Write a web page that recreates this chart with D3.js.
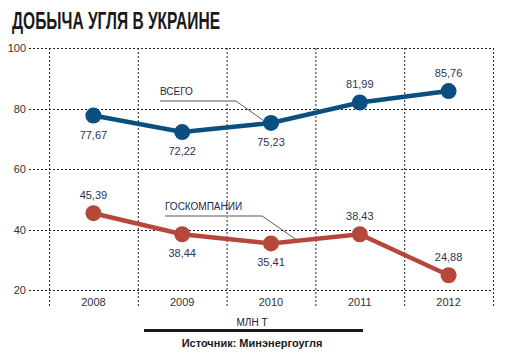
<!DOCTYPE html>
<html>
<head>
<meta charset="utf-8">
<script src="https://cdn.jsdelivr.net/npm/d3@7"></script>
<style>
  body { margin: 0; background: #fff; }
  text { font-family: "Liberation Sans Narrow", "Liberation Sans", sans-serif; }
</style>
</head>
<body>
<div id="chart"></div>
<script>
const years = ['2008', '2009', '2010', '2011', '2012'];
const total = [77.67, 72.22, 75.23, 81.99, 85.76];
const stateCo = [45.39, 38.44, 35.41, 38.43, 24.88];
const yTicks = [20, 40, 60, 80, 100];
// label above (-1) or below (1) the dot
const totalPos = [1, 1, 1, -1, -1];
const statePos = [-1, 1, 1, -1, -1];

const width = 506, height = 361;
const fmt = v => d3.format('.2f')(v).replace('.', ',');

const svg = d3.select('#chart').append('svg')
  .attr('width', width)
  .attr('height', height);

const x = d3.scaleBand().domain(years).range([49, 493]);
const y = d3.scaleLinear().domain([20, 100]).range([290, 48]);

svg.append('text')
  .attr('x', 12).attr('y', 29)
  .attr('font-size', 24).attr('font-weight', 'bold')
  .attr('fill', '#1a1a1a')
  .attr('textLength', 208).attr('lengthAdjust', 'spacingAndGlyphs')
  .text('ДОБЫЧА УГЛЯ В УКРАИНЕ');

const grid = svg.append('g')
  .attr('stroke', '#222')
  .attr('stroke-width', 1)
  .attr('stroke-dasharray', '2,2');

grid.selectAll('.h').data(yTicks).enter().append('line')
  .attr('x1', 29).attr('x2', 493)
  .attr('y1', d => Math.round(y(d)) + 0.5).attr('y2', d => Math.round(y(d)) + 0.5);

grid.selectAll('.v').data(years.concat(['end'])).enter().append('line')
  .attr('x1', (d, i) => (i < years.length ? x(d) : x.range()[1]) + 0.5)
  .attr('x2', (d, i) => (i < years.length ? x(d) : x.range()[1]) + 0.5)
  .attr('y1', y(100)).attr('y2', 308);

svg.selectAll('.ytick').data(yTicks).enter().append('text')
  .attr('x', 26).attr('y', d => y(d) + 4)
  .attr('text-anchor', 'end')
  .attr('font-size', 11).attr('fill', '#333')
  .text(d => d);

svg.selectAll('.xtick').data(years).enter().append('text')
  .attr('x', d => x(d) + x.bandwidth() / 2).attr('y', 306)
  .attr('text-anchor', 'middle')
  .attr('font-size', 11).attr('fill', '#333')
  .text(d => d);

const cx = d => x(d) + x.bandwidth() / 2;

// callouts
function callout(label, tx, ty, lineEnd, target) {
  svg.append('text')
    .attr('x', tx).attr('y', ty)
    .attr('font-size', 10).attr('fill', '#1a2a4a')
    .text(label);
  svg.append('line')
    .attr('x1', tx).attr('x2', lineEnd)
    .attr('y1', ty + 6).attr('y2', ty + 6)
    .attr('stroke', '#aaa').attr('stroke-width', 2);
  svg.append('line')
    .attr('x1', lineEnd).attr('x2', target[0])
    .attr('y1', ty + 6).attr('y2', target[1])
    .attr('stroke', '#333').attr('stroke-width', 0.8);
}

function series(data, color, pos) {
  const line = d3.line().x((d, i) => cx(years[i])).y(d => y(d));
  svg.append('path')
    .datum(data)
    .attr('d', line)
    .attr('fill', 'none')
    .attr('stroke', color)
    .attr('stroke-width', 4.5);
  svg.selectAll(null).data(data).enter().append('circle')
    .attr('cx', (d, i) => cx(years[i]))
    .attr('cy', d => y(d))
    .attr('r', 8)
    .attr('fill', color);
  svg.selectAll(null).data(data).enter().append('text')
    .attr('x', (d, i) => cx(years[i]))
    .attr('y', (d, i) => y(d) + (pos[i] > 0 ? 23 : -14))
    .attr('text-anchor', 'middle')
    .attr('font-size', 11).attr('fill', '#2a3550')
    .text(d => fmt(d));
}

callout('ВСЕГО', 160, 95, 236, [cx('2010'), y(total[2]) + 3]);
callout('ГОСКОМПАНИИ', 165, 210, 262, [297, y(36.5)]);

series(total, '#0b4f80', totalPos);
series(stateCo, '#b5483b', statePos);

svg.append('text')
  .attr('x', 252).attr('y', 326)
  .attr('text-anchor', 'middle')
  .attr('font-size', 10).attr('fill', '#222')
  .text('МЛН Т');

svg.append('rect')
  .attr('x', 144).attr('y', 329)
  .attr('width', 219).attr('height', 3)
  .attr('fill', '#1a1a1a');

svg.append('text')
  .attr('x', 252).attr('y', 347)
  .attr('text-anchor', 'middle')
  .attr('font-size', 11).attr('font-weight', 'bold').attr('fill', '#1a1a1a')
  .text('Источник: Минэнергоугля');
</script>
</body>
</html>
